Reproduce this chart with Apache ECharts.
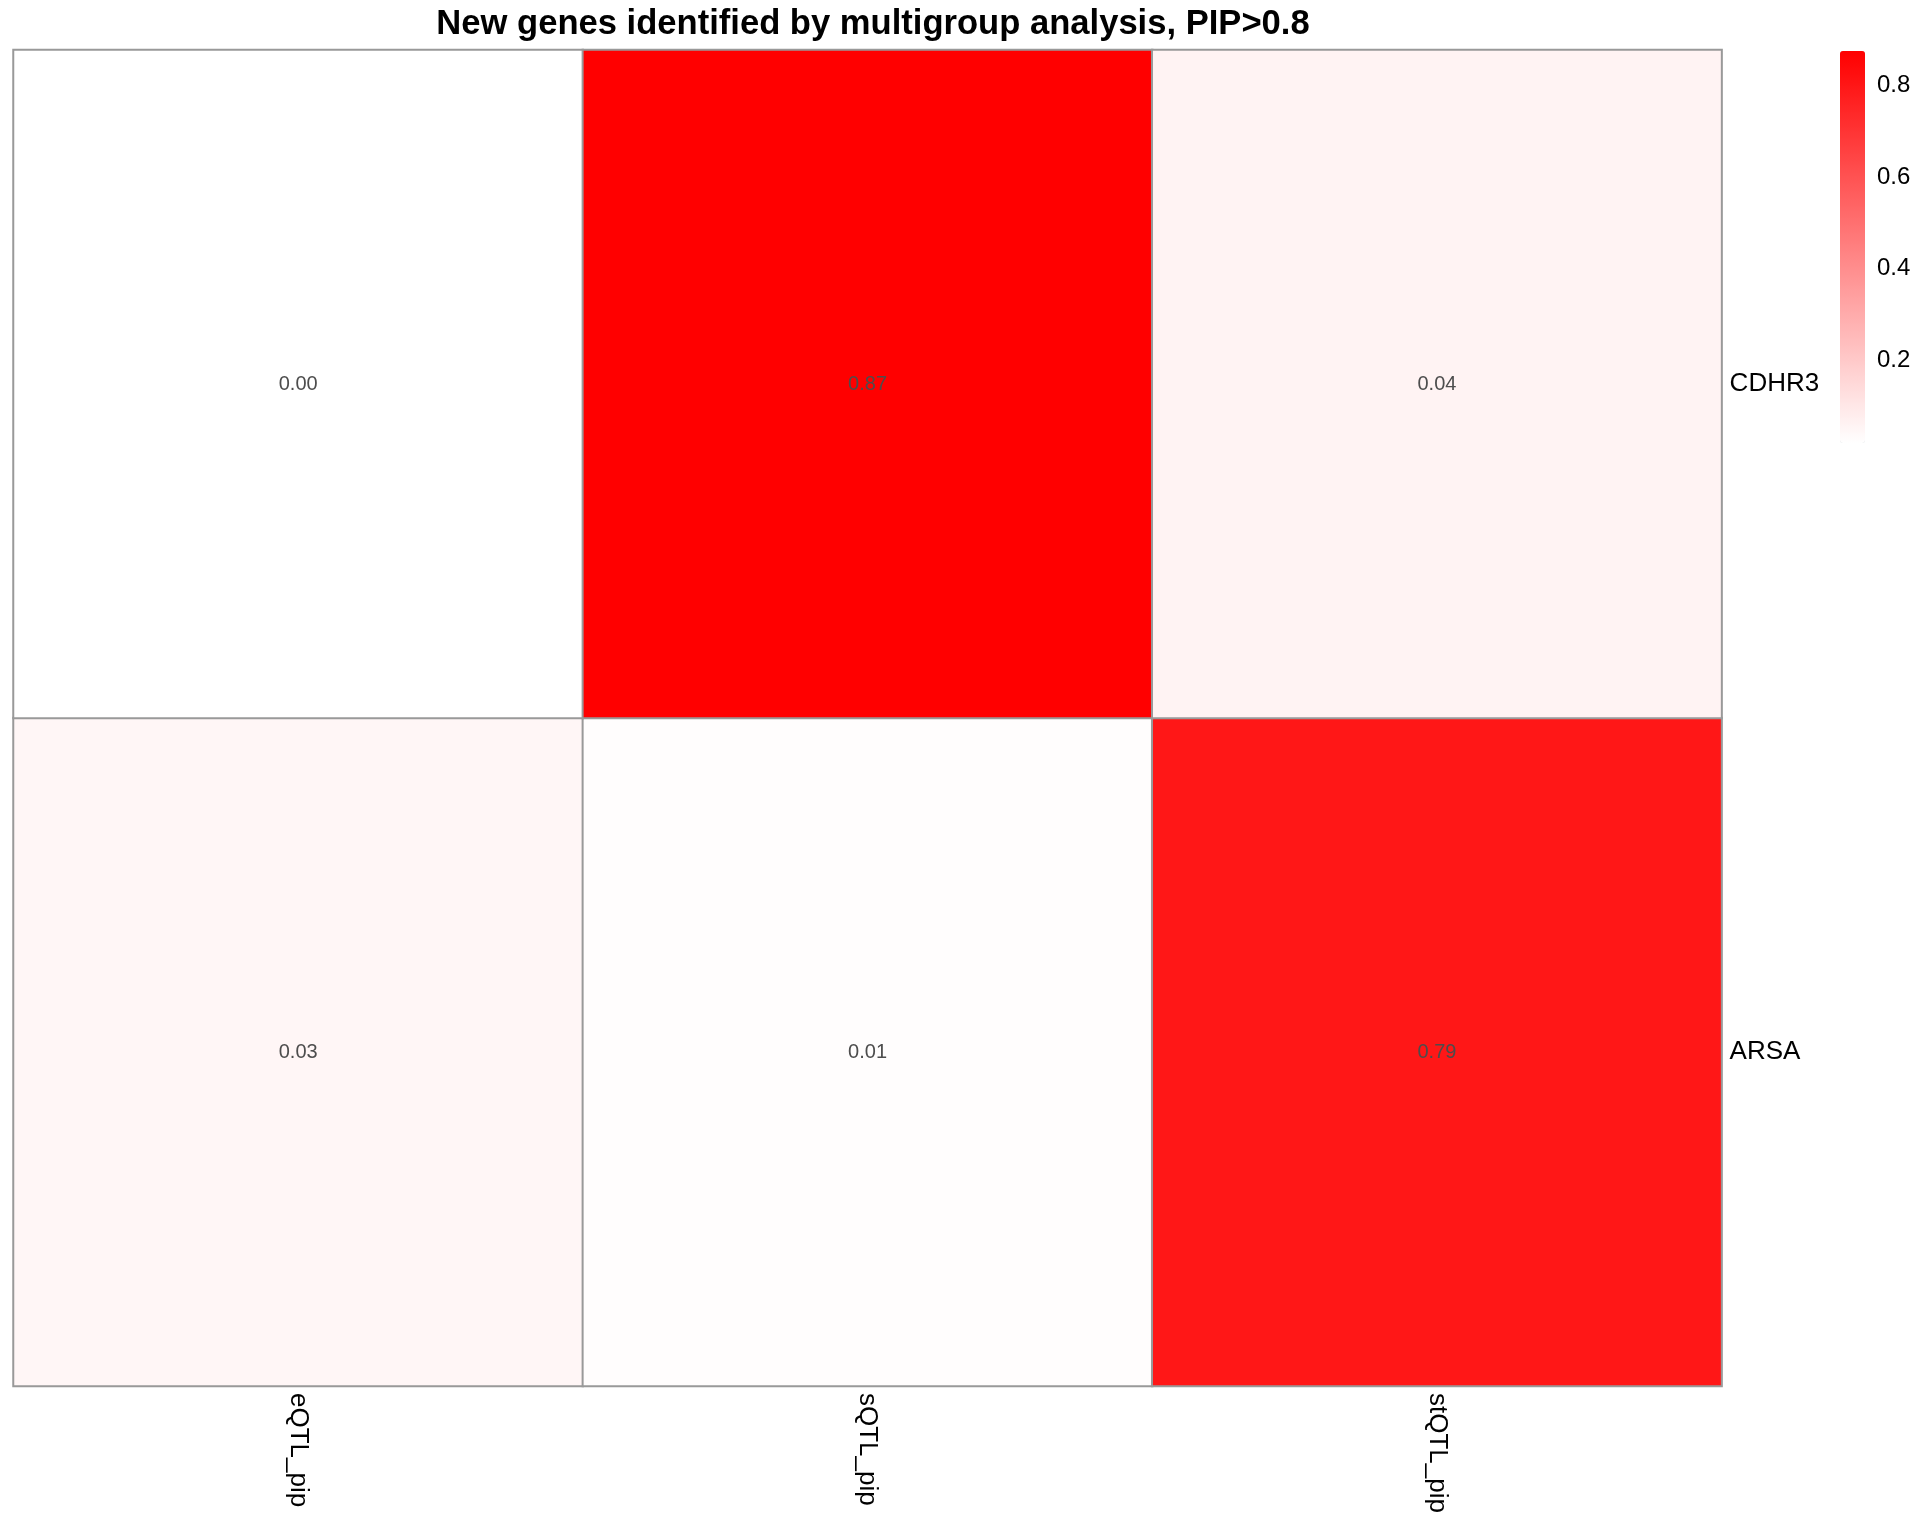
<!DOCTYPE html>
<html>
<head>
<meta charset="utf-8">
<title>New genes identified by multigroup analysis</title>
<script src="https://cdn.jsdelivr.net/npm/echarts@6/dist/echarts.min.js"></script>
<style>
  html, body { margin: 0; padding: 0; background: #fff; }
  #chart { width: 1920px; height: 1536px; }
</style>
</head>
<body>
<div id="chart"></div>
<script>
// columns (left to right) and rows (bottom to top, as ECharts counts them)
const columns = ['eQTL_pip', 'sQTL_pip', 'stQTL_pip'];
const rows = ['ARSA', 'CDHR3'];

// PIP values per row, in column order (sQTL/ARSA cell is drawn white, so just under 0.01)
const arsaValues = [0.03, 0.006, 0.79];
const cdhr3Values = [0.00, 0.87, 0.04];

const legendTicks = [0.2, 0.4, 0.6, 0.8];

const rowValues = [arsaValues, cdhr3Values];
const cells = [];
rowValues.forEach(function (vals, r) {
  vals.forEach(function (v, c) {
    cells.push([c, r, v]);
  });
});

const font = '"Liberation Sans", Arial, Helvetica, sans-serif';

const myChart = echarts.init(document.getElementById('chart'));
const option = {
  backgroundColor: '#ffffff',
  textStyle: { fontFamily: font },
  title: {
    text: 'New genes identified by multigroup analysis, PIP>0.8',
    left: 868,
    textAlign: 'center',
    top: 2,
    textStyle: { fontSize: 34.6, fontWeight: 'bold', color: '#000', fontFamily: font }
  },
  grid: [
    { left: 13.5, right: 198.4, top: 50, bottom: 150 },
    // dummy grid only used to place the colour bar tick labels
    { left: 1840, width: 25, top: 51, height: 401 }
  ],
  xAxis: [
    {
      type: 'category',
      data: columns,
      position: 'bottom',
      axisLine: { show: false },
      axisTick: { show: false },
      splitLine: { show: false },
      axisLabel: {
        rotate: -90,
        fontSize: 26,
        color: '#000',
        margin: 7,
        fontFamily: font
      }
    },
    { type: 'value', gridIndex: 1, show: false, min: 0, max: 1 }
  ],
  yAxis: [
    {
      type: 'category',
      data: rows,
      position: 'right',
      axisLine: { show: false },
      axisTick: { show: false },
      splitLine: { show: false },
      axisLabel: {
        fontSize: 26,
        color: '#000',
        margin: 8,
        fontFamily: font
      }
    },
    {
      type: 'value',
      gridIndex: 1,
      position: 'right',
      min: 0,
      max: 0.875,
      interval: 0.2,
      axisLine: { show: false },
      axisTick: { show: false },
      splitLine: { show: false },
      axisLabel: {
        showMinLabel: false,
        showMaxLabel: false,
        fontSize: 24,
        color: '#000',
        margin: 12,
        fontFamily: font,
        formatter: function (v) {
          return legendTicks.indexOf(Math.round(v * 10) / 10) >= 0 ? v.toFixed(1) : '';
        }
      }
    }
  ],
  visualMap: {
    type: 'continuous',
    min: 0,
    max: 0.87,
    calculable: false,
    hoverLink: false,
    orient: 'vertical',
    left: 1840,
    top: 51,
    padding: 0,
    itemWidth: 25,
    itemHeight: 392,
    text: null,
    seriesIndex: 0,
    inRange: { color: ['#ffffff', '#ff0000'] }
  },
  series: [
    {
      name: 'PIP',
      type: 'heatmap',
      data: cells,
      itemStyle: { borderColor: '#999999', borderWidth: 2 },
      label: {
        show: true,
        fontSize: 20,
        color: '#4d4d4d',
        fontFamily: font,
        formatter: function (p) {
          return p.value[2].toFixed(2);
        }
      },
      emphasis: { disabled: true }
    }
  ]
};
myChart.setOption(option);
</script>
</body>
</html>
